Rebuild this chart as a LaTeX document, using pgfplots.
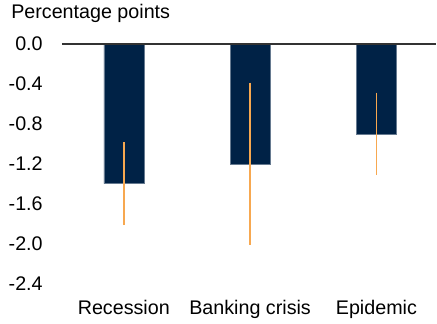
\documentclass[border=0pt]{standalone}
\usepackage{pgfplots}
\pgfplotsset{compat=1.18}
\usepackage{fontspec}
\setmainfont{Liberation Sans}
\definecolor{navy}{RGB}{0,34,70}
\definecolor{errorange}{RGB}{247,168,80}
\begin{document}
\fontsize{14.8}{17}\selectfont
\begin{tikzpicture}
\begin{axis}[
 scale only axis, width=281.25pt, height=180pt,
 xmin=-0.49, xmax=2.475, ymin=-2.4, ymax=0,
 axis line style={draw=none},
 major tick length=0pt,
 xtick={0,1,2}, xticklabels={Recession,Banking crisis,Epidemic},
 ytick={-2.4,-2.0,-1.6,-1.2,-0.8,-0.4,0},
 yticklabels={-2.4,-2.0,-1.6,-1.2,-0.8,-0.4,0.0},
 tick label style={font=\fontsize{14.8}{17}\selectfont},
 yticklabel style={anchor=east, inner sep=0pt, xshift=-14.25pt},
 xticklabel style={anchor=base, inner sep=0pt, yshift=-23.25pt},
 clip=false,
]
\addplot[ybar, bar width=30pt, fill=navy, draw=navy!60!white, line width=0.4pt,
  error bars/.cd, y dir=both, y explicit,
  error bar style={draw=errorange, color=errorange, line width=1.1pt},
  error mark options={draw=errorange, color=errorange, mark size=1pt, line width=1.1pt}]
  coordinates {(0,-1.4) +- (0,0.4) (1,-1.2) +- (0,0.8) (2,-0.9) +- (0,0.4)};
\draw[black!80, line width=0.9pt] (rel axis cs:0,1) -- (rel axis cs:1,1);
\node[anchor=base west, inner sep=0pt, xshift=-38.25pt, yshift=18.75pt] at (rel axis cs:0,1) {Percentage points};
\end{axis}
\path ([shift={(-46.5pt,-30pt)}]current axis.south west) rectangle ([shift={(0pt,33pt)}]current axis.north east);
\end{tikzpicture}
\end{document}
